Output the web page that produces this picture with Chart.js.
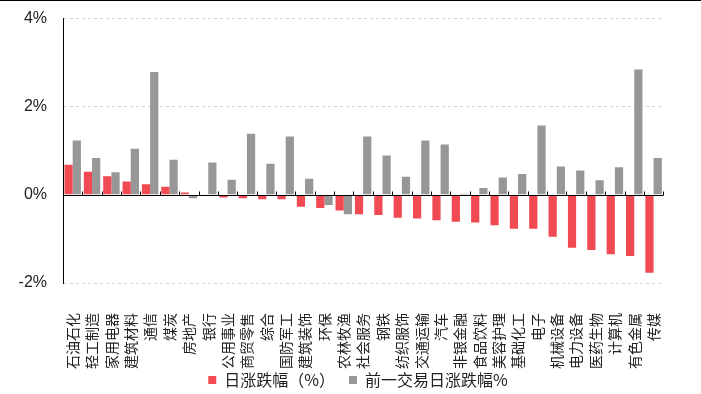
<!DOCTYPE html>
<html lang="zh">
<head>
    <meta charset="UTF-8">
    <title>行业日涨跌幅</title>
    <script src="https://cdn.jsdelivr.net/npm/chart.js@4/dist/chart.umd.min.js"></script>
    <style>
        body {
            margin: 0;
            background: #fff;
        }
        .wrap {
            width: 701px;
            height: 393px;
            border-top: 1px solid #000;
        }
    </style>
</head>
<body>
    <div class="wrap">
        <canvas id="chart" width="701" height="393"></canvas>
    </div>

    <script>
        const categories = ['石油石化', '轻工制造', '家用电器', '建筑材料', '通信', '煤炭', '房地产', '银行',
            '公用事业', '商贸零售', '综合', '国防军工', '建筑装饰', '环保', '农林牧渔', '社会服务', '钢铁',
            '纺织服饰', '交通运输', '汽车', '非银金融', '食品饮料', '美容护理', '基础化工', '电子', '机械设备',
            '电力设备', '医药生物', '计算机', '有色金属', '传媒'];

        // 日涨跌幅（%）
        const todayChange = [0.68, 0.52, 0.42, 0.30, 0.24, 0.18, 0.05, 0.00, -0.06, -0.08, -0.10, -0.10,
            -0.27, -0.30, -0.36, -0.44, -0.46, -0.52, -0.54, -0.58, -0.61, -0.63, -0.69, -0.77, -0.77,
            -0.95, -1.20, -1.25, -1.35, -1.39, -1.77];

        // 前一交易日涨跌幅%
        const prevChange = [1.23, 0.83, 0.51, 1.04, 2.78, 0.79, -0.08, 0.73, 0.34, 1.38, 0.70, 1.32,
            0.36, -0.23, -0.44, 1.32, 0.89, 0.41, 1.23, 1.14, 0.02, 0.15, 0.39, 0.47, 1.57, 0.64, 0.55,
            0.33, 0.62, 2.84, 0.83];

        const yTicks = [-2, 0, 2, 4];

        // zero line with small upward ticks between categories
        const zeroAxis = {
            id: 'zeroAxis',
            afterDatasetsDraw(chart) {
                const {ctx, chartArea, scales: {x, y}} = chart;
                const y0 = Math.round(y.getPixelForValue(0)) + 0.5;
                const step = x.getPixelForValue(1) - x.getPixelForValue(0);
                ctx.save();
                ctx.strokeStyle = '#000';
                ctx.lineWidth = 1;
                ctx.beginPath();
                ctx.moveTo(chartArea.left, y0);
                ctx.lineTo(chartArea.right, y0);
                for (let i = 0; i <= categories.length; i++) {
                    const px = Math.round(x.getPixelForValue(i) - step / 2) + 0.5;
                    ctx.moveTo(px, y0);
                    ctx.lineTo(px, y0 - 4);
                }
                ctx.stroke();
                ctx.restore();
            }
        };

        new Chart(document.getElementById('chart'), {
            type: 'bar',
            data: {
                labels: categories,
                datasets: [{
                    label: '日涨跌幅（%）',
                    data: todayChange,
                    xAxisID: 'x',
                    yAxisID: 'y',
                    backgroundColor: '#f24a52',
                    categoryPercentage: 0.85,
                    barPercentage: 1.0
                }, {
                    label: '前一交易日涨跌幅%',
                    data: prevChange,
                    xAxisID: 'x',
                    yAxisID: 'y',
                    backgroundColor: '#979797',
                    categoryPercentage: 0.85,
                    barPercentage: 1.0
                }]
            },
            options: {
                responsive: false,
                animation: false,
                layout: {
                    padding: {top: 4, right: 2, left: 17, bottom: 0}
                },
                plugins: {
                    legend: {
                        position: 'bottom',
                        maxHeight: 36,
                        labels: {
                            boxWidth: 8,
                            boxHeight: 8,
                            padding: 14,
                            color: '#222',
                            font: {family: "'Noto Sans CJK SC', sans-serif", size: 16}
                        }
                    },
                    tooltip: {enabled: false}
                },
                scales: {
                    x: {
                        // labels hang below the plot, hung from the -2% line
                        position: {y: -2},
                        grid: {display: false, drawTicks: false},
                        border: {display: false},
                        ticks: {
                            autoSkip: false,
                            minRotation: 90,
                            maxRotation: 90,
                            padding: 30,
                            color: '#222',
                            font: {family: "'Noto Sans CJK SC', sans-serif", size: 14}
                        }
                    },
                    y: {
                        min: -2,
                        max: 4,
                        afterBuildTicks: axis => {
                            axis.ticks = yTicks.map(v => ({value: v}));
                        },
                        afterFit: axis => {
                            axis.width = 46;
                        },
                        grid: {
                            drawTicks: false,
                            color: ctx => ctx.tick && ctx.tick.value === 0 ? 'rgba(0,0,0,0)' : '#d4d4d4'
                        },
                        border: {
                            display: true,
                            color: '#000',
                            width: 1,
                            dash: [3, 3]
                        },
                        ticks: {
                            padding: 16,
                            color: '#222',
                            font: {family: "'Liberation Sans', Arial, sans-serif", size: 16, lineHeight: 0.15},
                            callback: v => v + '%'
                        }
                    },
                    // empty band that keeps room for the x labels
                    gap: {
                        type: 'category',
                        position: 'bottom',
                        grid: {display: false, drawTicks: false},
                        border: {display: false},
                        ticks: {display: false},
                        afterFit: axis => {
                            axis.height = 75;
                        }
                    },
                    // empty strip on the right
                    gapR: {
                        type: 'linear',
                        position: 'right',
                        grid: {display: false, drawTicks: false},
                        border: {display: false},
                        ticks: {display: false},
                        afterFit: axis => {
                            axis.width = 12;
                        }
                    }
                }
            },
            plugins: [zeroAxis]
        });
    </script>
</body>
</html>
